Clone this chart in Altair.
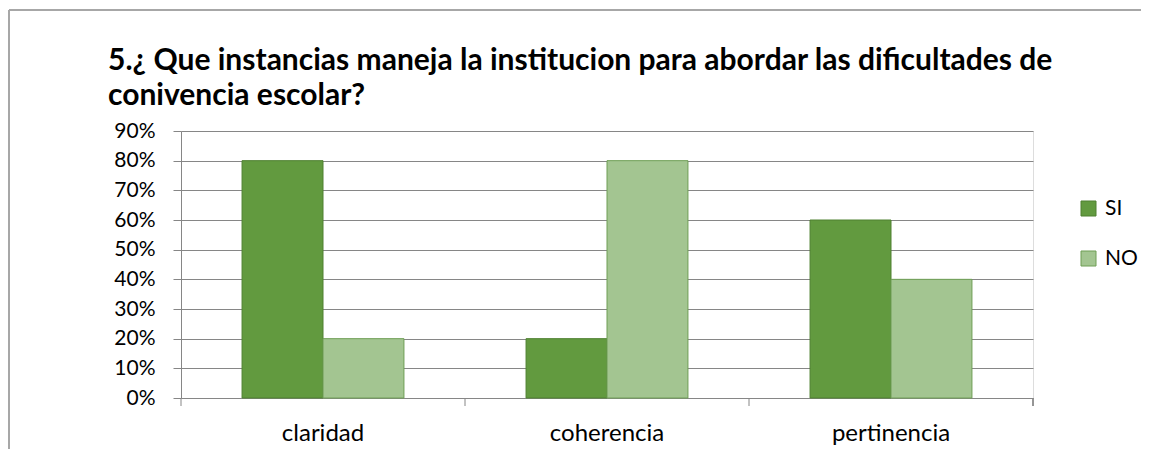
import altair as alt
import pandas as pd

categories = ["claridad", "coherencia", "pertinencia"]
series = ["SI", "NO"]
si_values = [0.80, 0.20, 0.60]
no_values = [0.20, 0.80, 0.40]
y_ticks = [0, 0.1, 0.2, 0.3, 0.4, 0.5, 0.6, 0.7, 0.8, 0.9]
title_lines = ["5.¿ Que instancias maneja la institucion para abordar las dificultades de",
               "conivencia escolar?"]

rows = []
for c, s, n in zip(categories, si_values, no_values):
    rows.append({"cat": c, "serie": "SI", "val": s})
    rows.append({"cat": c, "serie": "NO", "val": n})
df = pd.DataFrame(rows)
cat_df = pd.DataFrame({"cat": categories})

FONT = "Lato"
W, H = 852, 267

xscale = alt.Scale(domain=categories, paddingInner=0.43, paddingOuter=0.215)
color_scale = alt.Scale(domain=series, range=["#629A3F", "#A3C591"])
stroke_scale = alt.Scale(domain=series, range=["#4E8030", "#6E9E55"])

bars = alt.Chart(df).mark_bar(strokeWidth=1).encode(
    x=alt.X("cat:N", scale=xscale, sort=categories,
            axis=alt.Axis(title=None, ticks=False, domain=False, labelAngle=0,
                          labelFont=FONT, labelFontSize=24, labelColor="#000000",
                          labelPadding=23)),
    xOffset=alt.XOffset("serie:N", sort=series, scale=alt.Scale(domain=series, paddingInner=0, paddingOuter=0)),
    y=alt.Y("val:Q", scale=alt.Scale(domain=[0, 0.9], nice=False),
            axis=alt.Axis(title=None, format=".0%", values=y_ticks, tickCount=10,
                          labelFont=FONT, labelFontSize=21, labelColor="#000000",
                          labelPadding=18, tickSize=8, tickColor="#868686",
                          domainColor="#868686", gridColor="#868686", grid=True,
                          gridWidth=1)),
    color=alt.Color("serie:N", scale=color_scale, sort=series,
                    legend=alt.Legend(title=None, orient="none", legendX=897, legendY=67,
                                      symbolType="square", symbolSize=225,
                                      symbolStrokeColor="#6E9E55", symbolStrokeWidth=1,
                                      labelFont=FONT, labelFontSize=21, labelColor="#000000",
                                      rowPadding=28, labelOffset=6)),
    stroke=alt.Stroke("serie:N", scale=stroke_scale, legend=None),
)

xticks = alt.Chart(cat_df).mark_rule(color="#868686", strokeWidth=1).encode(
    x=alt.X("cat:N", scale=alt.Scale(domain=categories, paddingInner=0, paddingOuter=0),
            sort=categories, bandPosition=0, axis=None),
    y=alt.value(H),
    y2=alt.value(H + 8),
)
end_tick = alt.Chart(cat_df).mark_rule(color="#868686", strokeWidth=1).encode(
    x=alt.value(W), y=alt.value(H), y2=alt.value(H + 8),
)
frame_top = alt.Chart(cat_df).mark_rule(color="#A6A6A6", strokeWidth=1.5).encode(
    x=alt.value(-172), x2=alt.value(1000), y=alt.value(-121),
)
frame_left = alt.Chart(cat_df).mark_rule(color="#A6A6A6", strokeWidth=1.5).encode(
    x=alt.value(-172), y=alt.value(-121), y2=alt.value(330),
)

chart = alt.layer(bars, xticks, end_tick, frame_top, frame_left).resolve_scale(
    x="independent"
).properties(
    width=W, height=H,
    padding={"left": 173, "top": 123, "right": 108, "bottom": 52},
    autosize=alt.AutoSizeParams(type="none"),
    title=alt.TitleParams(text=title_lines, anchor="start", frame="group", dx=-73,
                          font=FONT, fontSize=30, fontWeight="bold", color="#000000",
                          lineHeight=35, offset=0, baseline="alphabetic", dy=126),
).configure_view(fill="#EBF0E6", stroke=None).configure(background="#FFFFFF")

chart.save("out.html", embed_options={"renderer": "svg", "actions": False})
